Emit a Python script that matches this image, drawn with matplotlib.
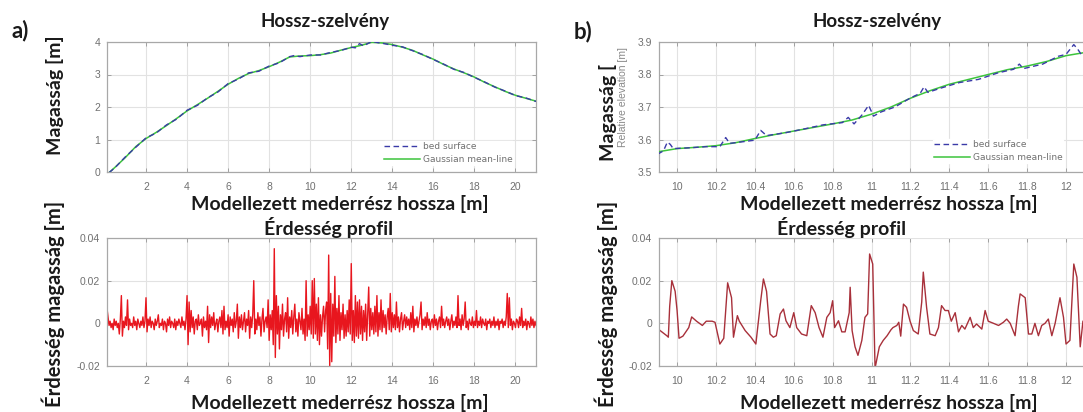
import numpy as np
import matplotlib
matplotlib.use("Agg")
import matplotlib.pyplot as plt

W, H = 1083, 412

# ---- a) Hossz-szelvény (0-21 m)
mean_a_x = [0.2, 0.5, 1.0, 1.5, 2.0, 2.5, 3.0, 3.5, 4.0, 4.5,
            5.0, 5.5, 6.0, 6.5, 7.0, 7.5, 8.0, 8.5, 9.0, 9.5,
            10.0, 10.5, 11.0, 11.5, 12.0, 12.5, 13.0, 13.5, 14.0, 14.5,
            15.0, 15.5, 16.0, 16.5, 17.0, 17.5, 18.0, 18.5, 19.0, 19.5,
            20.0, 20.5, 21.0]
mean_a = [-0.02, 0.15, 0.45, 0.78, 1.03, 1.22, 1.43, 1.65, 1.88, 2.07,
          2.27, 2.48, 2.70, 2.88, 3.03, 3.12, 3.24, 3.38, 3.54, 3.57,
          3.58, 3.61, 3.66, 3.75, 3.83, 3.90, 3.99, 3.97, 3.92, 3.84,
          3.74, 3.60, 3.47, 3.31, 3.17, 3.05, 2.92, 2.76, 2.62, 2.48,
          2.36, 2.27, 2.18]
bed_a_x = [0.20, 0.50, 1.00, 1.50, 2.00, 2.50, 3.00, 3.50, 4.00, 4.50,
           5.00, 5.50, 6.00, 6.50, 7.00, 7.50, 8.00, 8.50, 9.00, 9.20,
           9.50, 10.00, 10.50, 11.00, 11.50, 12.00, 12.20, 12.40, 12.60, 13.00,
           13.30, 13.60, 14.00, 14.50, 15.00, 15.50, 16.00, 16.50, 17.00, 17.50,
           18.00, 18.50, 19.00, 19.50, 20.00, 20.50, 21.00]
bed_a = [-0.02, 0.14, 0.47, 0.76, 1.05, 1.20, 1.45, 1.63, 1.90, 2.05,
         2.28, 2.46, 2.72, 2.86, 3.05, 3.10, 3.26, 3.36, 3.55, 3.58,
         3.55, 3.60, 3.60, 3.68, 3.74, 3.84, 3.82, 3.95, 3.88, 4.02,
         3.98, 3.95, 3.90, 3.85, 3.73, 3.61, 3.46, 3.32, 3.16, 3.06,
         2.91, 2.77, 2.61, 2.49, 2.35, 2.28, 2.17]

# ---- a) Érdesség profil, one sample every 5 cm from 0.1 m, in mm
rough_a_start, rough_a_step = 0.1, 0.05
rough_a_mm = [
    7, 3, -1, 1, -2, 0, -3, 2, -1, 1, -2, 0, -5, 2, 13, -6, 1, -2, 3, -1,
    11, -3, 2, -1, 0, -2, 3, -1, 1, -3, 2, 0, -2, 1, -1, 3, -2, 1, 12, -4,
    2, -1, 3, -2, 1, 0, -3, 2, -1, 1, 4, -2, 0, -1, 2, -3, 1, 0, -4, 2,
    -1, 3, -2, 1, 0, -2, 2, -3, 1, -1, 2, 0, -2, 3, -1, 1, -3, 2, 13, -10,
    10, -4, 6, -2, 3, -5, 1, 2, -3, 4, -1, 0, 2, -6, 3, -2, 1, -3, 8, -9,
    4, -2, 3, -1, 5, -3, 0, 2, -4, 1, 3, -2, 6, -5, 8, -3, 1, -2, 4, -6,
    3, -1, 2, -4, 5, -2, 1, 9, -7, 3, -2, 4, -3, 1, 5, -4, 2, -1, 6, -7,
    3, -2, 4, 20, -5, 2, -3, 5, -1, 3, -6, 2, 7, -4, 1, 3, -2, 11, -8, 4,
    -3, 6, -10, 35, -16, 13, -5, 8, -12, 4, -3, 9, -6, 2, 5, -4, 12, -7, 3, -2,
    6, -5, 3, 9, -4, 2, -6, 5, 1, -3, 7, -5, 2, -8, 20, -6, 4, -3, 8, -5,
    20, -7, 21, -5, 9, -8, 12, -10, 4, -6, 3, 8, -4, 6, 10, -12, 32, -20, 14, -18,
    9, -6, 22, -9, 7, -5, 13, -8, 5, -3, 9, -7, 4, -6, 6, -4, 11, -5, 28, -8,
    6, -9, 13, -6, 10, -7, 11, -5, 8, -8, 6, -4, 9, -8, 4, 17, -6, 7, -3, 5,
    -5, 8, -4, 13, -6, 5, -3, 11, -4, 6, -2, 4, -5, 3, 7, -3, 14, -4, 5, -2,
    4, -3, 10, -2, 3, -4, 2, 5, -3, 1, 4, -2, 3, -1, 2, -3, 5, -2, 8, -4,
    2, -1, 3, -2, 1, 4, 10, -3, 2, -1, 3, -2, 5, -1, 2, -3, 1, 2, -2, 4,
    -1, 2, -3, 1, 3, -2, 8, -1, 2, -2, 1, 3, -1, 2, -3, 1, 4, -2, 1, -1,
    3, -2, 13, -1, 2, -3, 4, -1, 2, 10, -2, 1, -3, 2, 0, -1, 3, -2, 1, -1,
    6, -2, 1, -1, 3, -2, 2, 0, -1, 2, -3, 1, 0, 2, -2, 1, -1, 3, -2, 1,
    -1, 2, -3, 1, 0, 2, -2, 1, -1, 3, 14, -2, 12, -1, 2, -3, 1, 0, -2, 2,
    1, -2, 3, -1, 7, -2, 1, -1, 2, -3, 1, 0, -2, 3, -1, 2, -2, 1, -1]

# ---- b) Hossz-szelvény (detail 9.9-12.1 m)
mean_b_x = [9.90, 10.0, 10.1, 10.2, 10.3, 10.4, 10.5, 10.6, 10.7, 10.8,
            10.9, 11.0, 11.1, 11.2, 11.3, 11.4, 11.5, 11.6, 11.7, 11.8,
            11.9, 12.0, 12.12]
mean_b = [3.562, 3.572, 3.576, 3.581, 3.590, 3.603, 3.615, 3.626, 3.637, 3.648,
          3.660, 3.678, 3.700, 3.727, 3.750, 3.770, 3.785, 3.800, 3.815, 3.826,
          3.840, 3.858, 3.870]
bed_b_x = [9.900, 9.930, 9.950, 9.965, 9.980, 10.050, 10.150, 10.220, 10.250, 10.270,
           10.350, 10.400, 10.430, 10.460, 10.550, 10.650, 10.750, 10.850, 10.880, 10.910,
           10.950, 10.985, 11.010, 11.050, 11.120, 11.200, 11.250, 11.270, 11.290, 11.350,
           11.450, 11.550, 11.650, 11.730, 11.760, 11.780, 11.880, 11.960, 12.000, 12.040,
           12.060, 12.080, 12.120]
bed_b = [3.555, 3.565, 3.592, 3.585, 3.572, 3.574, 3.578, 3.578, 3.606, 3.588,
         3.594, 3.598, 3.628, 3.612, 3.620, 3.632, 3.645, 3.652, 3.668, 3.648,
         3.675, 3.705, 3.672, 3.685, 3.700, 3.728, 3.742, 3.762, 3.745, 3.757,
         3.775, 3.785, 3.805, 3.816, 3.832, 3.818, 3.832, 3.856, 3.862, 3.892,
         3.878, 3.860, 3.852]

# ---- b) Érdesség profil (mm)
rough_b_x = [9.913, 9.947, 9.955, 9.962, 9.973, 9.990, 10.000, 10.010, 10.030, 10.060,
             10.075, 10.100, 10.130, 10.150, 10.180, 10.195, 10.220, 10.240, 10.260, 10.280,
             10.290, 10.310, 10.320, 10.350, 10.380, 10.405, 10.430, 10.444, 10.460, 10.478,
             10.495, 10.510, 10.530, 10.547, 10.560, 10.580, 10.600, 10.615, 10.640, 10.667,
             10.690, 10.710, 10.730, 10.750, 10.770, 10.787, 10.800, 10.810, 10.830, 10.847,
             10.864, 10.885, 10.890, 10.900, 10.915, 10.930, 10.950, 10.966, 10.980, 10.990,
             11.006, 11.018, 11.040, 11.060, 11.080, 11.100, 11.110, 11.130, 11.140, 11.150,
             11.164, 11.180, 11.198, 11.215, 11.240, 11.258, 11.266, 11.283, 11.300, 11.327,
             11.344, 11.360, 11.378, 11.395, 11.410, 11.430, 11.447, 11.464, 11.480, 11.507,
             11.523, 11.540, 11.567, 11.584, 11.600, 11.627, 11.653, 11.678, 11.695, 11.713,
             11.738, 11.755, 11.764, 11.790, 11.807, 11.824, 11.840, 11.858, 11.875, 11.892,
             11.909, 11.927, 11.944, 11.969, 11.987, 12.000, 12.020, 12.040, 12.056, 12.073,
             12.087, 12.120]
rough_b_mm = [-3.4, -5.8, -6.5, 8.0, 20.0, 15.0, 6.0, -7.0, -6.0, -2.0,
              3.0, 1.0, -1.0, 1.0, 1.0, 0.5, -9.7, -7.0, 19.0, 12.0,
              -6.5, 3.6, 1.0, -3.4, -6.5, -9.7, 10.6, 20.8, 15.0, -5.0,
              -6.5, -5.8, 4.4, 6.7, 1.2, -2.0, 5.0, -2.0, -5.0, -5.8,
              8.3, 5.0, -2.0, -6.5, 2.8, 5.0, 10.6, -2.0, 1.2, -4.0,
              -4.0, 5.0, 16.9, -3.4, -11.0, -15.0, -8.0, 2.8, 4.4, 32.5,
              27.8, -21.0, -11.0, -8.0, -5.8, -3.0, -2.0, -1.0, 0.5, -6.0,
              9.0, 7.5, 1.0, -3.4, -5.0, 10.0, 24.0, 7.5, -5.0, -5.8,
              -2.0, 8.3, 6.0, 6.0, 1.0, 5.0, -4.0, -1.0, -2.7, 2.8,
              -2.0, -0.3, -2.7, 6.0, 1.0, 0.0, -1.0, 0.5, 2.0, 0.0,
              -5.8, 8.0, 13.8, 12.0, -5.0, -5.0, 0.0, -5.8, -1.0, 0.0,
              2.0, -5.8, 0.0, 12.0, 2.8, -9.7, -8.0, 27.8, 21.6, -11.0,
              1.0, 3.0]

xt_a = [2, 4, 6, 8, 10, 12, 14, 16, 18, 20]
xt_b = [10, 10.2, 10.4, 10.6, 10.8, 11, 11.2, 11.4, 11.6, 11.8, 12]
xt_b_lbl = ['10', '10.2', '10.4', '10.6', '10.8', '11', '11.2', '11.4', '11.6', '11.8', '12']
yt_rough = [-0.02, 0, 0.02, 0.04]
yt_rough_lbl = ['-0.02', '0', '0.02', '0.04']
yt_b = [3.5, 3.6, 3.7, 3.8, 3.9]

fig = plt.figure(figsize=(W / 100, H / 100), dpi=100)
fig.patch.set_facecolor('white')


def px_axes(l, t, r, b):
    return fig.add_axes([l / W, 1 - b / H, (r - l) / W, (b - t) / H])


def style(ax):
    ax.grid(True, color='#e2e2e2', lw=0.8)
    ax.set_axisbelow(True)
    ax.tick_params(direction='in', length=3, width=0.7, colors='#a0a0a0',
                   labelcolor='#707070', labelsize=7.5, top=True, right=True)
    ax.tick_params(axis='x', pad=7)
    ax.tick_params(axis='y', pad=5)
    for s in ax.spines.values():
        s.set_color('#a8a8a8')
        s.set_linewidth(0.9)
    for lab in ax.get_xticklabels() + ax.get_yticklabels():
        lab.set_family('Liberation Sans')


def ftext(x, y, s, **kw):
    fig.text(x / W, 1 - y / H, s, ha='center', va='center', **kw)


bold = dict(family='Lato', weight='bold', color='#1a1a1a')

ax_a1 = px_axes(107, 42, 536, 172)
ax_a2 = px_axes(107, 238, 536, 366)
ax_b1 = px_axes(659, 42, 1088, 172)
ax_b2 = px_axes(659, 238, 1088, 366)

# top profiles
for ax, bx, by, mx, my in [(ax_a1, bed_a_x, bed_a, mean_a_x, mean_a),
                           (ax_b1, bed_b_x, bed_b, mean_b_x, mean_b)]:
    ax.plot(mx, my, color='#3cc43c', lw=1.1, label='Gaussian mean-line', zorder=3)
    ax.plot(bx, by, color='#3a3aa8', lw=1.0, ls=(0, (4, 2.5)), label='bed surface', zorder=4)

ax_a1.set_xlim(0.1, 21.0)
ax_a1.set_ylim(0, 4)
ax_a1.set_xticks(xt_a)
ax_a1.set_yticks([0, 1, 2, 3, 4])

ax_b1.set_xlim(9.907, 12.113)
ax_b1.set_ylim(3.5, 3.9)
ax_b1.set_xticks(xt_b)
ax_b1.set_xticklabels(xt_b_lbl)
ax_b1.set_yticks(yt_b)
ax_b1.set_yticklabels(['3.5', '3.6', '3.7', '3.8', '3.9'])

# roughness
xa = rough_a_start + rough_a_step * np.arange(len(rough_a_mm))
ax_a2.plot(xa, np.array(rough_a_mm) / 1000.0, color='#e8161e', lw=1.0)
ax_a2.set_xlim(0.1, 21.0)
ax_a2.set_ylim(-0.02, 0.04)
ax_a2.set_xticks(xt_a)
ax_a2.set_yticks(yt_rough)
ax_a2.set_yticklabels(yt_rough_lbl)

ax_b2.plot(rough_b_x, np.array(rough_b_mm) / 1000.0, color='#a8303a', lw=1.0)
ax_b2.set_xlim(9.907, 12.113)
ax_b2.set_ylim(-0.02, 0.04)
ax_b2.set_xticks(xt_b)
ax_b2.set_xticklabels(xt_b_lbl)
ax_b2.set_yticks(yt_rough)
ax_b2.set_yticklabels(yt_rough_lbl)
ax_b2.spines['top'].set_bounds(9.907, 10.73)

for ax in (ax_a1, ax_a2, ax_b1, ax_b2):
    style(ax)

# legends
for ax, lx, ly in [(ax_a1, 383, 141), (ax_b1, 933, 139)]:
    h, l = ax.get_legend_handles_labels()
    leg = ax.legend(h[::-1], l[::-1], loc='upper left',
                    bbox_to_anchor=(lx / W, 1 - ly / H), bbox_transform=fig.transFigure,
                    frameon=True, framealpha=1, edgecolor='white', fontsize=6.5,
                    borderpad=0.1, borderaxespad=0, handlelength=4.0,
                    handletextpad=0.3, labelspacing=0.45)
    for t in leg.get_texts():
        t.set_color('#707070')

# texts
ftext(20, 31, 'a)', fontsize=16, **bold)
ftext(583, 32, 'b)', fontsize=16, **bold)
ftext(325, 22, 'Hossz-szelvény', fontsize=13.5, **bold)
ftext(877, 22, 'Hossz-szelvény', fontsize=13.5, **bold)
ftext(340, 204, 'Modellezett mederrész hossza [m]', fontsize=14, **bold)
ftext(889, 204, 'Modellezett mederrész hossza [m]', fontsize=14, **bold)
ftext(329, 228, 'Érdesség profil', fontsize=14, **bold)
ftext(842, 228, 'Érdesség profil', fontsize=14, **bold)
ftext(340, 403, 'Modellezett mederrész hossza [m]', fontsize=14, **bold)
ftext(889, 403, 'Modellezett mederrész hossza [m]', fontsize=14, **bold)
ftext(55, 95, 'Magasság [m]', fontsize=14, rotation=90, **bold)
ftext(53, 304, 'Érdesség magasság [m]', fontsize=14.5, rotation=90, **bold)
ftext(608, 112, 'Magasság [', fontsize=14, rotation=90, **bold)
ftext(623, 97, 'Relative elevation [m]', fontsize=7.5, rotation=90,
      family='Liberation Sans', color='#8a8a8a')
ftext(606, 304, 'Érdesség magasság [m]', fontsize=14.5, rotation=90, **bold)

fig.savefig('out.png', dpi=100)
